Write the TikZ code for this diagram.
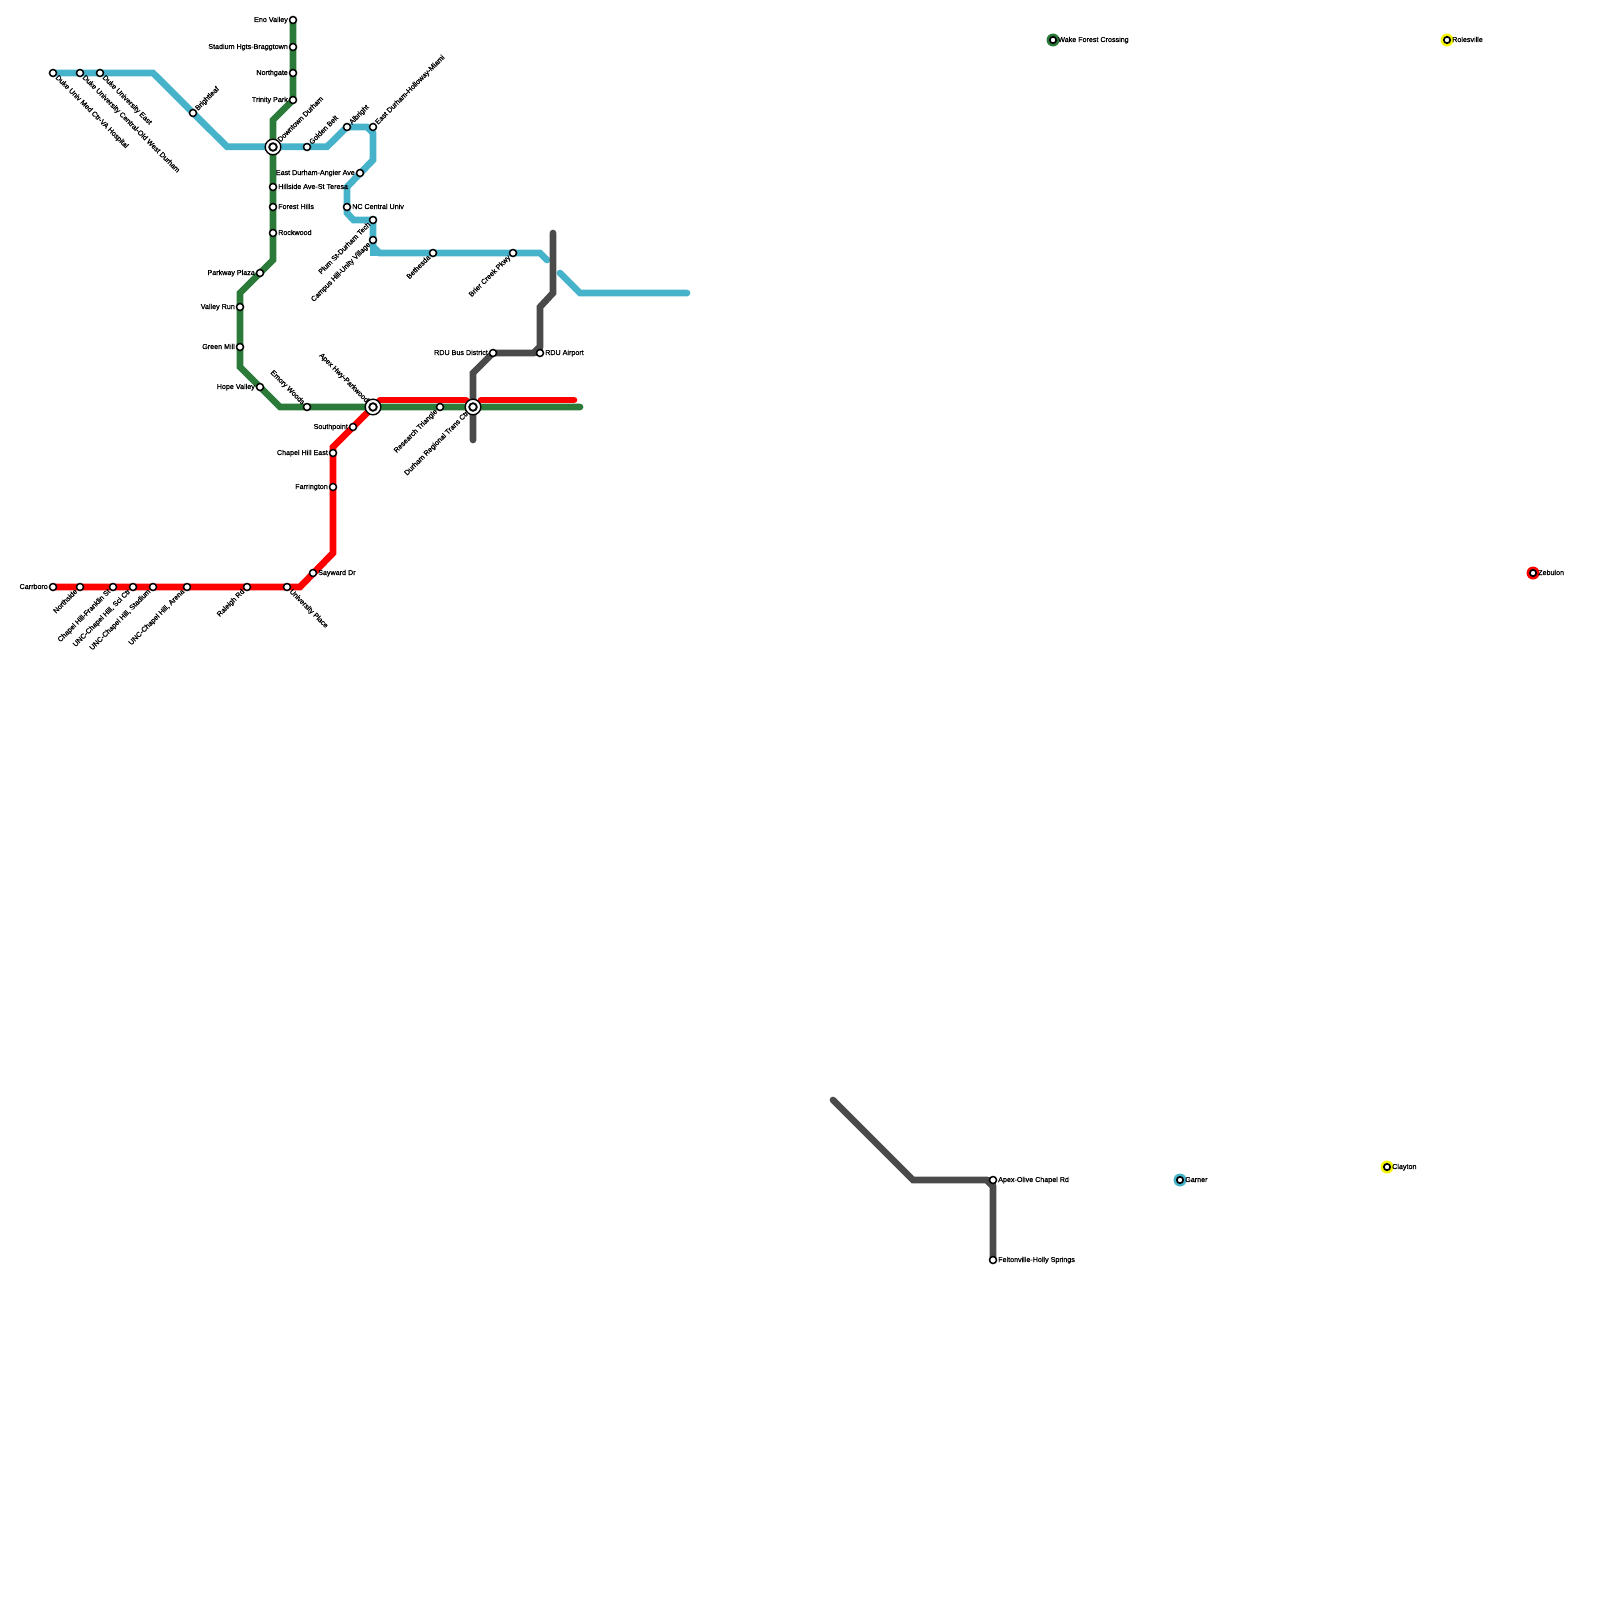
\documentclass[tikz,border=0pt]{standalone}
\usepackage{fontspec}
\usetikzlibrary{backgrounds}
\setmainfont[FakeBold=1.0]{Liberation Sans}
\definecolor{lblue}{HTML}{47B3CB}
\definecolor{lgreen}{HTML}{2B7A39}
\definecolor{lred}{HTML}{FF0000}
\definecolor{lgrey}{HTML}{4A4A4A}
\definecolor{lyellow}{HTML}{F5F50A}
\tikzset{
  x=1pt,y=-1pt,
  line/.style={line width=6.7pt,line join=miter,line cap=round},
  stn/.style={circle,draw=black,fill=white,line width=1.5pt,minimum size=7pt,inner sep=0pt},
  hub/.style={circle,draw=black,fill=white,line width=1.4pt,minimum size=15.6pt,inner sep=0pt},
  hubin/.style={circle,draw=black,fill=white,line width=1.8pt,minimum size=7.6pt,inner sep=0pt},
  iso/.style={circle,fill=#1,minimum size=13pt,inner sep=0pt},
  isoin/.style={circle,draw=black,fill=white,line width=1.7pt,minimum size=6.4pt,inner sep=0pt},
  txt/.style={font=\fontsize{7.15}{8}\selectfont,inner sep=0pt,text=black,text height=4pt,text depth=0pt},
  lE/.style={txt,anchor=west,xshift=5pt},
  lW/.style={txt,anchor=east,xshift=-5pt},
  lUR/.style={txt,anchor=west,xshift=3.5pt,yshift=3.5pt,rotate=45},
  lDL/.style={txt,anchor=east,xshift=-3.5pt,yshift=-3.5pt,rotate=45},
  lDR/.style={txt,anchor=west,xshift=3.5pt,yshift=-3.5pt,rotate=-45},
  lUL/.style={txt,anchor=east,xshift=-3.5pt,yshift=3.5pt,rotate=-45},
  hUR/.style={txt,anchor=west,xshift=6pt,yshift=6pt,rotate=45},
  hDL/.style={txt,anchor=east,xshift=-5.5pt,yshift=-5.5pt,rotate=45},
  hUL/.style={txt,anchor=east,xshift=-5.5pt,yshift=5.5pt,rotate=-45},
}
\begin{document}
\begin{tikzpicture}
\useasboundingbox (0,0) rectangle (1600,1600);
% stations
\path
 (53,73) node[stn] (dukemed) {}
 (80,73) node[stn] (dukecentral) {}
 (100,73) node[stn] (dukeeast) {}
 (193,113) node[stn] (brightleaf) {}
 (273,147) node[hub] (downtown) {}
 (273,147) node[hubin] (downtownin) {}
 (307,147) node[stn] (golden) {}
 (347,127) node[stn] (albright) {}
 (373,127) node[stn] (eastdurham) {}
 (360,173) node[stn] (angier) {}
 (347,207) node[stn] (nccu) {}
 (373,220) node[stn] (plum) {}
 (373,240) node[stn] (campus) {}
 (433,253) node[stn] (bethesda) {}
 (513,253) node[stn] (brier) {}
 (293,20) node[stn] (eno) {}
 (293,47) node[stn] (stadium) {}
 (293,73) node[stn] (northgate) {}
 (293,100) node[stn] (trinity) {}
 (273,187) node[stn] (hillside) {}
 (273,207) node[stn] (forest) {}
 (273,233) node[stn] (rockwood) {}
 (260,273) node[stn] (parkway) {}
 (240,307) node[stn] (valley) {}
 (240,347) node[stn] (greenmill) {}
 (260,387) node[stn] (hope) {}
 (307,407) node[stn] (emory) {}
 (373,407) node[hub] (apex) {}
 (373,407) node[hubin] (apexin) {}
 (440,407) node[stn] (research) {}
 (473,407) node[hub] (durham) {}
 (473,407) node[hubin] (durhamin) {}
 (493,353) node[stn] (rdubus) {}
 (540,353) node[stn] (rdu) {}
 (353,427) node[stn] (southpoint) {}
 (333,453) node[stn] (chapeleast) {}
 (333,487) node[stn] (farrington) {}
 (313,573) node[stn] (sayward) {}
 (53,587) node[stn] (carrboro) {}
 (80,587) node[stn] (northside) {}
 (113,587) node[stn] (franklin) {}
 (133,587) node[stn] (scictr) {}
 (153,587) node[stn] (uncstadium) {}
 (187,587) node[stn] (arena) {}
 (247,587) node[stn] (raleigh) {}
 (287,587) node[stn] (university) {}
 (993,1180) node[stn] (olive) {}
 (993,1260) node[stn] (fenton) {}
 (1053,40) node[iso=lgreen] (wake) {}
 (1053,40) node[isoin] (wakein) {}
 (1447,40) node[iso=lyellow] (rolesville) {}
 (1447,40) node[isoin] (rolesvillein) {}
 (1533,573) node[iso=lred] (zebulon) {}
 (1533,573) node[isoin] (zebulonin) {}
 (1180,1180) node[iso=lblue] (garner) {}
 (1180,1180) node[isoin] (garnerin) {}
 (1387,1167) node[iso=lyellow] (clayton) {}
 (1387,1167) node[isoin] (claytonin) {};
% line vertices
\path (153,73) coordinate (b1) (227,146.7) coordinate (b2) (327,146.7) coordinate (b3)
 (367,127) coordinate (b4) (373,133) coordinate (b5) (373,160) coordinate (b6)
 (347,187) coordinate (b7) (347,213) coordinate (b8) (353.5,220) coordinate (b9)
 (373,246.5) coordinate (b10a) (379.5,253) coordinate (b10b) (373,253) coordinate (b10) (540,253) coordinate (b11) (547,260) coordinate (b12)
 (560,273) coordinate (b13) (580,293) coordinate (b14) (687,293) coordinate (b15)
 (273,120) coordinate (g1) (273,260) coordinate (g2) (240,293) coordinate (g3)
 (240,367) coordinate (g4) (280,407) coordinate (g5) (580,407) coordinate (g6)
 (300,587) coordinate (r1) (333,553) coordinate (r2) (333,447) coordinate (r3)
 (380,400) coordinate (r4) (466,400) coordinate (r5) (481,400) coordinate (r6) (574,400) coordinate (r7)
 (553,233) coordinate (k1) (553,293) coordinate (k2) (540,307) coordinate (k3)
 (540,346.5) coordinate (k3a) (533.5,353) coordinate (k3b)
 (473,373) coordinate (k4) (473,440) coordinate (k5)
 (833,1100) coordinate (k6) (913,1180) coordinate (k7)
 (986.5,1180) coordinate (k7a) (993,1186.5) coordinate (k7b);
\begin{scope}[on background layer]
% blue
\draw[line,lblue] (dukemed.center) -- (b1) -- (b2) -- (b3) -- (albright.center) -- (b4) -- (b5) -- (b6) -- (b7) -- (b8) -- (b9) -- (plum.center) -- (b10a) -- (b10b) -- (b11) -- (b12);
\draw[line,lblue,line cap=butt] (b10a) -- (b10) -- (b10b);
\draw[line,lblue] (b13) -- (b14) -- (b15);
% red
\draw[line,lred] (carrboro.center) -- (r1) -- (r2) -- (r3) -- (apex.center);
\draw[line,lred] (r4) -- (r5);
\draw[line,lred] (r6) -- (r7);
% green
\draw[line,lgreen] (eno.center) -- (trinity.center) -- (g1) -- (g2) -- (g3) -- (g4) -- (g5) -- (g6);
% grey
\draw[line,lgrey] (k1) -- (k2) -- (k3) -- (k3a) -- (k3b) -- (rdubus.center) -- (k4) -- (k5);
\draw[line,lgrey,line cap=butt] (k3a) -- (rdu.center) -- (k3b);
\draw[line,lgrey] (k6) -- (k7) -- (k7a) -- (k7b) -- (fenton.center);
\draw[line,lgrey,line cap=butt] (k7a) -- (olive.center) -- (k7b);
\end{scope}
% labels
\node[lDR] (t1) at (dukemed) {Duke Univ Med Ctr-VA Hospital};
\node[lDR] (t2) at (dukecentral) {Duke University Central-Old West Durham};
\node[lDR] (t3) at (dukeeast) {Duke University East};
\node[lUR] (t4) at (brightleaf) {Brightleaf};
\node[hUR] (t5) at (downtown) {Downtown Durham};
\node[lUR] (t6) at (golden) {Golden Belt};
\node[lUR] (t7) at (albright) {Albright};
\node[lUR] (t8) at (eastdurham) {East Durham-Holloway-Miami};
\node[lW] (t9) at (angier) {East Durham-Angier Ave};
\node[lE] (t10) at (nccu) {NC Central Univ};
\node[lDL] (t11) at (plum) {Plum St-Durham Tech};
\node[lDL] (t12) at (campus) {Campus Hill-Unity Village};
\node[lDL] (t13) at (bethesda) {Bethesda};
\node[lDL] (t14) at (brier) {Brier Creek Pkwy};
\node[lW] (t15) at (eno) {Eno Valley};
\node[lW] (t16) at (stadium) {Stadium Hgts-Braggtown};
\node[lW] (t17) at (northgate) {Northgate};
\node[lW] (t18) at (trinity) {Trinity Park};
\node[lE] (t19) at (hillside) {Hillside Ave-St Teresa};
\node[lE] (t20) at (forest) {Forest Hills};
\node[lE] (t21) at (rockwood) {Rockwood};
\node[lW] (t22) at (parkway) {Parkway Plaza};
\node[lW] (t23) at (valley) {Valley Run};
\node[lW] (t24) at (greenmill) {Green Mill};
\node[lW] (t25) at (hope) {Hope Valley};
\node[lUL] (t26) at (emory) {Emory Woods};
\node[hUL] (t27) at (apex) {Apex Hwy-Parkwood};
\node[lDL] (t28) at (research) {Research Triangle};
\node[hDL] (t29) at (durham) {Durham Regional Trans Ctr};
\node[lW] (t30) at (rdubus) {RDU Bus District};
\node[lE] (t31) at (rdu) {RDU Airport};
\node[lW] (t32) at (southpoint) {Southpoint};
\node[lW] (t33) at (chapeleast) {Chapel Hill East};
\node[lW] (t34) at (farrington) {Farrington};
\node[lE] (t35) at (sayward) {Sayward Dr};
\node[lW] (t36) at (carrboro) {Carrboro};
\node[lDL] (t37) at (northside) {Northside};
\node[lDL] (t38) at (franklin) {Chapel Hill-Franklin St};
\node[lDL] (t39) at (scictr) {UNC-Chapel Hill, Sci Ctr};
\node[lDL] (t40) at (uncstadium) {UNC-Chapel Hill, Stadium};
\node[lDL] (t41) at (arena) {UNC-Chapel Hill, Arena};
\node[lDL] (t42) at (raleigh) {Raleigh Rd};
\node[lDR] (t43) at (university) {University Place};
\node[lE] (t44) at (olive) {Apex-Olive Chapel Rd};
\node[lE] (t45) at (fenton) {Feltonville-Holly Springs};
\node[lE] (t46) at (wake) {Wake Forest Crossing};
\node[lE] (t47) at (rolesville) {Rolesville};
\node[lE] (t48) at (zebulon) {Zebulon};
\node[lE] (t49) at (garner) {Garner};
\node[lE] (t50) at (clayton) {Clayton};
\end{tikzpicture}
\end{document}
